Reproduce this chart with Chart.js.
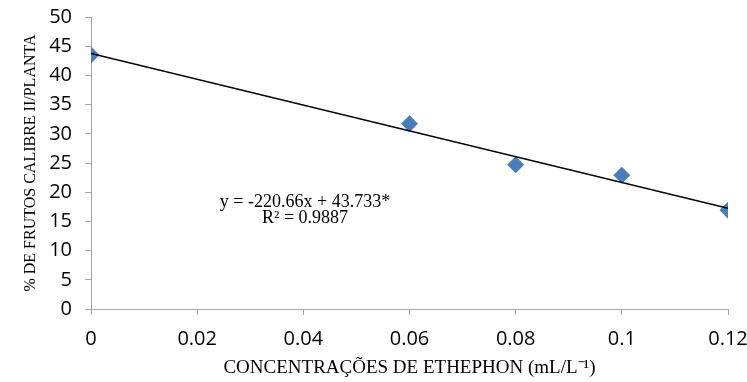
<!DOCTYPE html>
<html>
<head>
<meta charset="utf-8">
<script src="https://cdn.jsdelivr.net/npm/chart.js@4/dist/chart.umd.min.js"></script>
<style>
  html, body { margin: 0; padding: 0; background: #fff; }
  #wrap { width: 747px; height: 382px; }
</style>
</head>
<body>
<div id="wrap"><canvas id="frutos"></canvas></div>
<script>
// ethephon dose vs % of fruits, caliber II
let doses = [0, 0.06, 0.08, 0.1, 0.12];
let frutos = [43.5, 31.7, 24.7, 22.9, 16.9];
let xTicks = [0, 0.02, 0.04, 0.06, 0.08, 0.1, 0.12];

// regression reported on the chart
let slope = -220.66;
let intercept = 43.733;
let r2 = 0.9887;

let points = doses.map((d, i) => ({ x: d, y: frutos[i] }));
let trend = [0, 0.12].map(x => ({ x: x, y: slope * x + intercept }));

let axisGrey = '#a6a6a6';
let tickFont = { family: 'Open Sans', size: 20 };

// equation text inside the plot
const equationLabel = {
    id: 'equationLabel',
    afterDatasetsDraw(chart) {
        let ctx = chart.ctx;
        ctx.save();
        ctx.fillStyle = '#000';
        ctx.font = '18px "Liberation Serif"';
        ctx.textAlign = 'center';
        ctx.textBaseline = 'middle';
        ctx.fillText('y = ' + slope + 'x + ' + intercept + '*', 305, 202);
        ctx.fillText('R² = ' + r2, 305, 218);
        ctx.restore();
    }
};

new Chart('frutos', {
    type: 'scatter',
    data: {
        datasets: [{
            data: points,
            pointStyle: 'rectRot',
            pointRadius: 8.5,
            pointHoverRadius: 8.5,
            backgroundColor: '#4a7ebb',
            borderColor: '#4a7ebb',
            borderWidth: 0,
            order: 2
        }, {
            type: 'line',
            data: trend,
            borderColor: '#000',
            borderWidth: 1.5,
            pointRadius: 0,
            fill: false,
            order: 1
        }]
    },
    options: {
        responsive: true,
        maintainAspectRatio: false,
        animation: false,
        layout: { padding: { top: 17, right: 19, left: 0, bottom: 0 } },
        plugins: {
            legend: { display: false },
            tooltip: { enabled: false }
        },
        scales: {
            x: {
                type: 'linear',
                min: 0,
                max: 0.12,
                afterBuildTicks(axis) {
                    axis.ticks = xTicks.map(v => ({ value: v }));
                },
                afterFit(axis) {
                    axis.height = 73;
                    axis.paddingLeft = 0;
                    axis.paddingRight = 0;
                },
                ticks: {
                    color: '#000',
                    font: tickFont,
                    padding: 12,
                    maxRotation: 0,
                    callback: v => String(v)
                },
                grid: {
                    drawOnChartArea: false,
                    drawTicks: true,
                    tickLength: 6,
                    color: axisGrey
                },
                border: { color: axisGrey },
                title: {
                    display: true,
                    text: 'CONCENTRAÇÕES DE ETHEPHON (mL/L⁻¹)',
                    color: '#000',
                    font: { family: 'Liberation Serif', size: 19 },
                    padding: { top: 0, bottom: 3 }
                }
            },
            y: {
                min: 0,
                max: 50,
                afterFit(axis) {
                    axis.width = 91;
                    axis.paddingTop = 0;
                    axis.paddingBottom = 0;
                },
                ticks: {
                    stepSize: 5,
                    color: '#000',
                    font: tickFont,
                    padding: 13
                },
                grid: {
                    drawOnChartArea: false,
                    drawTicks: true,
                    tickLength: 6,
                    color: axisGrey
                },
                border: { color: axisGrey },
                title: {
                    display: true,
                    text: '% DE FRUTOS CALIBRE II/PLANTA',
                    color: '#000',
                    font: { family: 'Liberation Serif', size: 16 },
                    padding: { top: 21, bottom: 0 }
                }
            }
        }
    },
    plugins: [equationLabel]
});
</script>
</body>
</html>
